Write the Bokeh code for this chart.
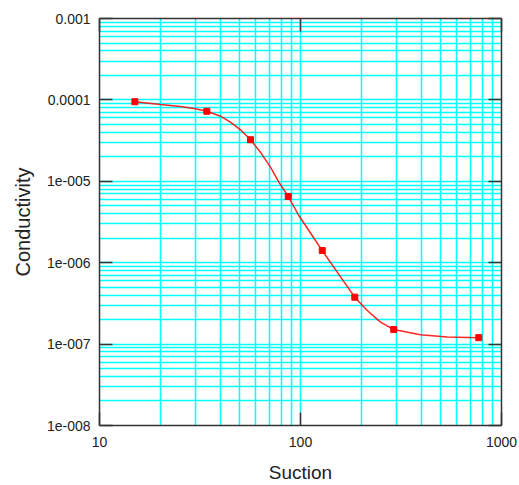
from bokeh.plotting import figure
from bokeh.models import LogAxis, FixedTicker, CustomJSTickFormatter, Range1d
from bokeh.embed import file_html
from bokeh.resources import INLINE

# ---- data ----
suction = [15, 34.2, 56.4, 86.9, 128.3, 186.2, 291, 771]
conductivity = [9.5e-5, 7.26e-5, 3.24e-5, 6.5e-6, 1.41e-6, 3.77e-7, 1.51e-7, 1.2e-7]

# fitted curve as traced on the picture
fit_suction = [15, 20.1, 25.3, 30.0, 34.2, 40.0, 44.8, 50.3, 56.4, 63.2, 70.9,
               78.0, 86.9, 98.1, 114.3, 128.3, 155, 186.2, 214.8, 250, 291,
               395, 537, 771]
fit_conductivity = [9.5e-5, 8.78e-5, 8.30e-5, 7.78e-5, 7.26e-5, 6.31e-5, 5.32e-5,
                    4.29e-5, 3.24e-5, 2.28e-5, 1.49e-5, 9.75e-6, 6.5e-6, 3.80e-6,
                    2.16e-6, 1.41e-6, 7.2e-7, 3.77e-7, 2.59e-7, 1.86e-7, 1.51e-7,
                    1.30e-7, 1.22e-7, 1.2e-7]

x_ticks = [10, 100, 1000]
x_tick_labels = ["10", "100", "1000"]
y_ticks = [1e-8, 1e-7, 1e-6, 1e-5, 1e-4, 1e-3]
y_tick_labels = ["1e-008", "1e-007", "1e-006", "1e-005", "0.0001", "0.001"]

x_title = "Suction"
y_title = "Conductivity"

# ---- figure ----
FONT = "Liberation Sans"
GRID = "#00FFFF"
AX = "#333333"

x_minor = [m * 10.0 ** e for e in range(1, 3) for m in range(2, 10)]
y_minor = [m * 10.0 ** e for e in range(-8, -3) for m in range(2, 10)]

x_ticker = FixedTicker(ticks=x_ticks, minor_ticks=x_minor)
y_ticker = FixedTicker(ticks=y_ticks, minor_ticks=y_minor)

fmt_code = """
let best = 0, bd = Infinity;
for (let i = 0; i < tvals.length; i++) {
  const d = Math.abs(Math.log10(tick) - Math.log10(tvals[i]));
  if (d < bd) { bd = d; best = i; }
}
return tlabels[best];
"""

p = figure(width=519, height=485, x_axis_type="log", y_axis_type="log",
           x_range=Range1d(10, 1000), y_range=Range1d(1e-8, 1e-3),
           output_backend="svg", toolbar_location=None,
           min_border_left=99, min_border_right=18, min_border_top=18,
           min_border_bottom=60)
p.outline_line_color = None
p.background_fill_color = "white"
p.border_fill_color = "white"


def style_axis(ax):
    ax.axis_line_color = AX
    ax.axis_line_width = 1.5
    ax.major_tick_line_color = AX
    ax.major_tick_line_width = 1.5
    ax.major_tick_in = 13
    ax.major_tick_out = 0
    ax.minor_tick_line_color = None
    ax.major_label_text_font = FONT
    ax.major_label_text_font_size = "14px"
    ax.major_label_text_color = "#222222"
    ax.axis_label_text_font = FONT
    ax.axis_label_text_font_size = "20px"
    ax.axis_label_text_font_style = "normal"
    ax.axis_label_text_color = "#222222"


xa = p.xaxis[0]
ya = p.yaxis[0]
xa.ticker = x_ticker
ya.ticker = y_ticker
xa.formatter = CustomJSTickFormatter(args=dict(tvals=x_ticks, tlabels=x_tick_labels), code=fmt_code)
ya.formatter = CustomJSTickFormatter(args=dict(tvals=y_ticks, tlabels=y_tick_labels), code=fmt_code)
style_axis(xa)
style_axis(ya)
xa.axis_label = x_title
ya.axis_label = y_title
xa.axis_label_text_font_size = "19px"
xa.major_label_standoff = 7
xa.axis_label_standoff = 12
ya.major_label_standoff = 5
ya.axis_label_standoff = 10

blank = "return '';"
top = LogAxis(ticker=x_ticker, formatter=CustomJSTickFormatter(code=blank))
right = LogAxis(ticker=y_ticker, formatter=CustomJSTickFormatter(code=blank))
for ax in (top, right):
    style_axis(ax)
    ax.major_label_standoff = 0
    ax.major_label_text_font_size = "1px"
p.add_layout(top, "above")
p.add_layout(right, "right")

p.xgrid.ticker = x_ticker
p.ygrid.ticker = y_ticker
for g in (p.xgrid, p.ygrid):
    g.grid_line_color = GRID
    g.grid_line_width = 1.5
    g.minor_grid_line_color = GRID
    g.minor_grid_line_width = 1.5

p.line(fit_suction, fit_conductivity, line_color="#ff0000", line_width=1.5, line_alpha=0.85)
p.scatter(suction, conductivity, marker="square", size=6,
          fill_color="#ff0000", line_color="#ff0000")

open("out.html", "w").write(file_html(p, INLINE))
